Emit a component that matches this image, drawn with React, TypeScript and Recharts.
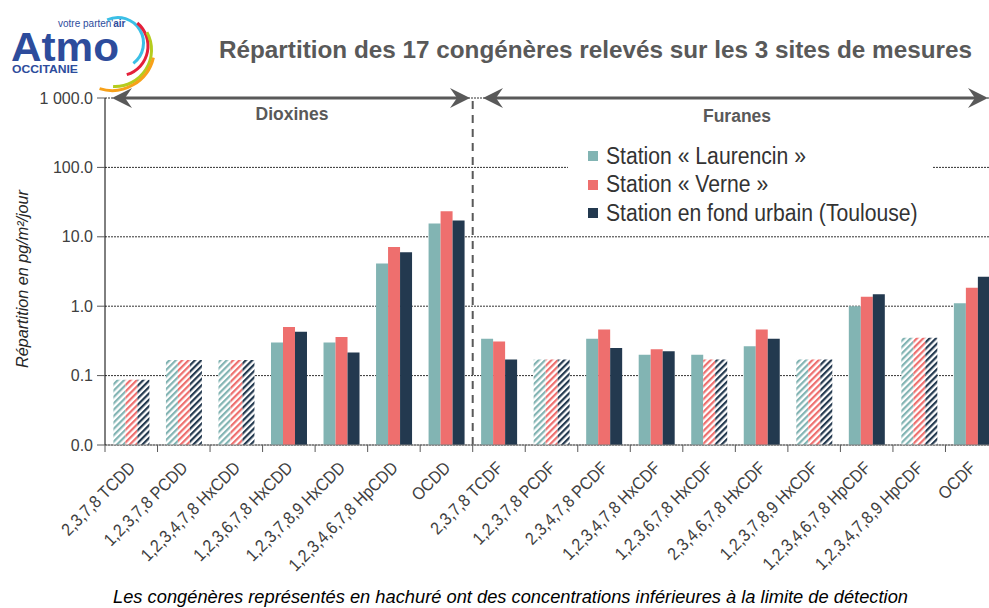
import React from "react";
import { BarChart, Bar, Cell, XAxis, YAxis, CartesianGrid, ReferenceLine, Legend } from "recharts";

const categories = [
  "2,3,7,8 TCDD",
  "1,2,3,7,8 PCDD",
  "1,2,3,4,7,8 HxCDD",
  "1,2,3,6,7,8 HxCDD",
  "1,2,3,7,8,9 HxCDD",
  "1,2,3,4,6,7,8 HpCDD",
  "OCDD",
  "2,3,7,8 TCDF",
  "1,2,3,7,8 PCDF",
  "2,3,4,7,8 PCDF",
  "1,2,3,4,7,8 HxCDF",
  "1,2,3,6,7,8 HxCDF",
  "2,3,4,6,7,8 HxCDF",
  "1,2,3,7,8,9 HxCDF",
  "1,2,3,4,6,7,8 HpCDF",
  "1,2,3,4,7,8,9 HpCDF",
  "OCDF",
];

// pg/m²/jour
const laurencin = [0.087, 0.168, 0.168, 0.3, 0.3, 4.13, 15.6, 0.34, 0.17, 0.34, 0.2, 0.2, 0.265, 0.17, 1.0, 0.35, 1.1];
const verne = [0.087, 0.168, 0.168, 0.5, 0.36, 7.1, 23.3, 0.31, 0.17, 0.46, 0.24, 0.17, 0.46, 0.17, 1.37, 0.35, 1.84];
const toulouse = [0.087, 0.168, 0.168, 0.43, 0.215, 6.0, 17.2, 0.17, 0.17, 0.25, 0.225, 0.17, 0.34, 0.17, 1.49, 0.35, 2.66];

// below detection limit -> hatched
const laurencinHatched = [1, 1, 1, 0, 0, 0, 0, 0, 1, 0, 0, 0, 0, 1, 0, 1, 0];
const verneHatched = [1, 1, 1, 0, 0, 0, 0, 0, 1, 0, 0, 1, 0, 1, 0, 1, 0];
const toulouseHatched = [1, 1, 1, 0, 0, 0, 0, 0, 1, 0, 0, 1, 0, 1, 0, 1, 0];

const yTicks = [0.01, 0.1, 1, 10, 100, 1000];
const yTickLabels = ["0.0", "0.1", "1.0", "10.0", "100.0", "1 000.0"];

const series = [
  { key: "laurencin", name: "Station « Laurencin »", color: "#82B4B3", hatched: laurencinHatched },
  { key: "verne", name: "Station « Verne »", color: "#EE6F6E", hatched: verneHatched },
  { key: "toulouse", name: "Station en fond urbain (Toulouse)", color: "#23394F", hatched: toulouseHatched },
];

const data = categories.map((name, i) => ({
  name,
  laurencin: laurencin[i],
  verne: verne[i],
  toulouse: toulouse[i],
}));

const FONT = "'Liberation Sans', Arial, sans-serif";
const CHART_W = 1010;
const CHART_H = 608;
const PLOT_LEFT = 105;
const PLOT_RIGHT = 998;
const BAND = (PLOT_RIGHT - PLOT_LEFT) / categories.length;

const XTick = (props: any) => {
  const { x, y, payload, index } = props;
  const tx = x + 5;
  const ty = y + 16;
  return (
    <g>
      <line x1={x - BAND / 2} y1={y - 8} x2={x - BAND / 2} y2={y - 1} stroke="#595959" />
      {index === categories.length - 1 && (
        <line x1={x + BAND / 2} y1={y - 8} x2={x + BAND / 2} y2={y - 1} stroke="#595959" />
      )}
      <text
        x={0}
        y={0}
        textAnchor="end"
        fontSize={17.5}
        fill="#404040"
        fontFamily={FONT}
        transform={`translate(${tx} ${ty}) rotate(-45) scale(0.9 1)`}
      >
        {payload.value}
      </text>
    </g>
  );
};

const LegendBox = () => (
  <div style={{ background: "#fff", padding: "6px 0 6px 20px", fontFamily: FONT, overflow: "visible" }}>
    {series.map((s) => (
      <div key={s.key} style={{ display: "flex", alignItems: "center", height: 28.5, color: "#333" }}>
        <span
          style={{ width: 10, height: 10, background: s.color, marginRight: 8, display: "inline-block", flexShrink: 0 }}
        />
        <span
          style={{
            fontSize: 23.5,
            display: "inline-block",
            flexShrink: 0,
            transform: "scaleX(0.9)",
            transformOrigin: "left center",
            whiteSpace: "nowrap",
          }}
        >
          {s.name}
        </span>
      </div>
    ))}
  </div>
);

const Arrow = ({ x1, x2, y }: { x1: number; x2: number; y: number }) => (
  <g fill="#595959" stroke="none">
    <line x1={x1 + 8} y1={y} x2={x2 - 8} y2={y} stroke="#595959" strokeWidth={3} />
    <polygon points={`${x1},${y} ${x1 + 20},${y - 10} ${x1 + 13},${y} ${x1 + 20},${y + 10}`} />
    <polygon points={`${x2},${y} ${x2 - 20},${y - 10} ${x2 - 13},${y} ${x2 - 20},${y + 10}`} />
  </g>
);

const arc = (cx: number, cy: number, r: number, a0: number, a1: number) => {
  const p = (a: number) => [cx + r * Math.cos((a * Math.PI) / 180), cy + r * Math.sin((a * Math.PI) / 180)];
  const [sx, sy] = p(a0);
  const [ex, ey] = p(a1);
  return `M${sx},${sy} A${r},${r} 0 0 1 ${ex},${ey}`;
};

const Overlay = () => (
  <svg width={989} height={608} style={{ position: "absolute", left: 0, top: 0, pointerEvents: "none" }}>
    {/* logo */}
    <g fontFamily={FONT}>
      <text x={11} y={61} fontSize={41} fontWeight="bold" fill="#2D4C9C" textLength={108} lengthAdjust="spacingAndGlyphs">
        Atmo
      </text>
      <text x={58} y={27} fontSize={10} fill="#2D4C9C">
        votre parten'<tspan fontWeight="bold">air</tspan>
      </text>
      <text x={12} y={73} fontSize={10.5} fontWeight="bold" fill="#2D4C9C" textLength={66} lengthAdjust="spacingAndGlyphs">
        OCCITANIE
      </text>
      <path d={arc(118, 43, 25.5, -115, 53)} stroke="#3BBFE6" strokeWidth={3} fill="none" />
      <path d={arc(118, 46, 30, -50, 73)} stroke="#E4203A" strokeWidth={3} fill="none" />
      <path d={arc(115, 50, 36.5, -29, 93)} stroke="#B5CC1E" strokeWidth={3} fill="none" />
      <path d={arc(112, 48, 42.5, 13, 107)} stroke="#F7A11A" strokeWidth={3} fill="none" />
    </g>
    <text
      x={219}
      y={58}
      fontSize={24.5}
      fontWeight="bold"
      fill="#595959"
      fontFamily={FONT}
      textLength={753}
      lengthAdjust="spacingAndGlyphs"
    >
      Répartition des 17 congénères relevés sur les 3 sites de mesures
    </text>
    <Arrow x1={112} x2={470} y={98} />
    <Arrow x1={483} x2={988} y={98} />
    <text x={292} y={120} textAnchor="middle" fontSize={17.5} fontWeight="bold" fill="#595959" fontFamily={FONT}>
      Dioxines
    </text>
    <text x={737} y={122} textAnchor="middle" fontSize={17.5} fontWeight="bold" fill="#595959" fontFamily={FONT}>
      Furanes
    </text>
    <text
      x={0}
      y={0}
      textAnchor="middle"
      fontSize={16}
      fontStyle="italic"
      fill="#262626"
      fontFamily={FONT}
      textLength={178}
      lengthAdjust="spacingAndGlyphs"
      transform="translate(28 279) rotate(-90)"
    >
      Répartition en pg/m²/jour
    </text>
    <text
      x={113}
      y={603}
      fontSize={18}
      fontStyle="italic"
      fill="#000"
      fontFamily={FONT}
      textLength={795}
      lengthAdjust="spacingAndGlyphs"
    >
      Les congénères représentés en hachuré ont des concentrations inférieures à la limite de détection
    </text>
  </svg>
);

export default function App() {
  return (
    <div
      style={{
        position: "fixed",
        left: 0,
        top: 0,
        width: 989,
        height: 608,
        overflow: "hidden",
        background: "#fff",
        fontFamily: FONT,
      }}
    >
      <BarChart
        width={CHART_W}
        height={CHART_H}
        data={data}
        margin={{ top: 98, right: CHART_W - PLOT_RIGHT, left: 0, bottom: 0 }}
        barCategoryGap="16%"
        barGap={0}
      >
        <defs>
          {series.map((s) => (
            <pattern
              key={s.key}
              id={`hatch-${s.key}`}
              patternUnits="userSpaceOnUse"
              width={4.5}
              height={4.5}
              patternTransform="rotate(45)"
            >
              <rect width={4.5} height={4.5} fill="#fff" />
              <rect width={2.2} height={4.5} fill={s.color} />
            </pattern>
          ))}
        </defs>
        <CartesianGrid vertical={false} stroke="#333" strokeDasharray="2 1" />
        <XAxis
          dataKey="name"
          interval={0}
          height={163}
          tickLine={false}
          axisLine={{ stroke: "#7f7f7f" }}
          tick={<XTick />}
        />
        <YAxis
          scale="log"
          type="number"
          domain={[0.01, 1000]}
          ticks={yTicks}
          allowDataOverflow
          width={PLOT_LEFT}
          tickSize={8}
          tickMargin={4}
          tickLine={{ stroke: "#595959" }}
          axisLine={{ stroke: "#000" }}
          tick={{ fontSize: 16, fill: "#404040", fontFamily: FONT }}
          tickFormatter={(v: number) => yTickLabels[yTicks.indexOf(v)] ?? String(v)}
        />
        <ReferenceLine x="2,3,7,8 TCDF" position="start" stroke="#595959" strokeWidth={2} strokeDasharray="8 6" />
        <Legend
          layout="horizontal"
          verticalAlign="middle"
          align="center"
          content={<LegendBox />}
          wrapperStyle={{ left: 568, top: 136, width: 365, height: 96 }}
        />
        {series.map((s) => (
          <Bar key={s.key} dataKey={s.key} name={s.name} fill={s.color} isAnimationActive={false}>
            {data.map((d, i) => (
              <Cell key={d.name} fill={s.hatched[i] ? `url(#hatch-${s.key})` : s.color} />
            ))}
          </Bar>
        ))}
      </BarChart>
      <Overlay />
    </div>
  );
}
